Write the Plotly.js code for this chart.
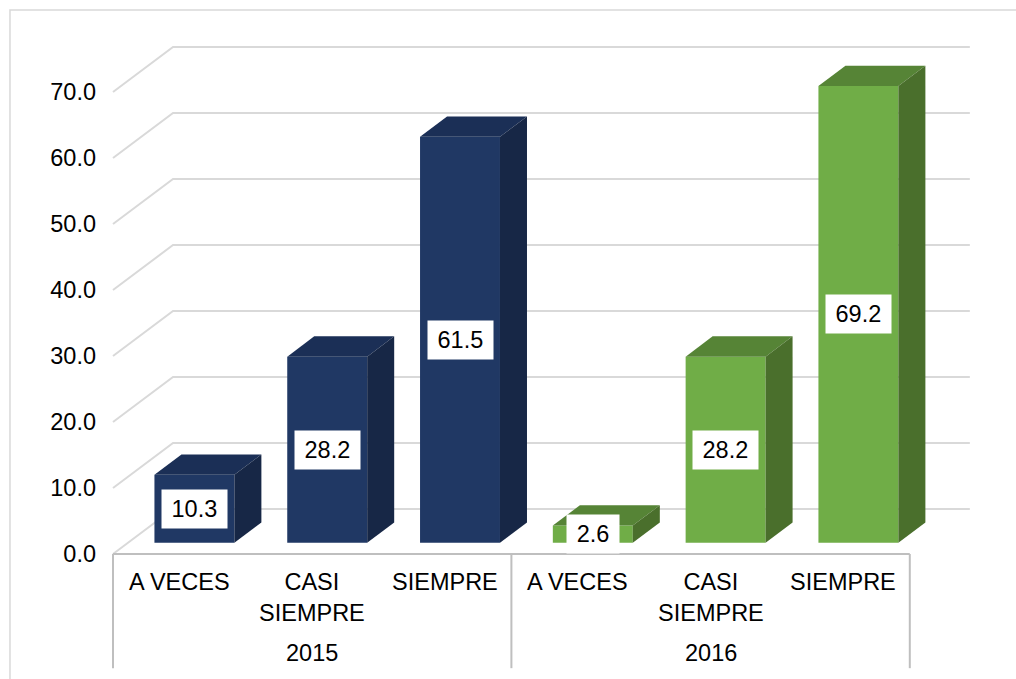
<!DOCTYPE html>
<html>
<head>
<meta charset="utf-8">
<script src="https://cdn.plot.ly/plotly-3.0.1.min.js"></script>
<style>html,body{margin:0;padding:0;background:#fff;}#chart{width:1016px;height:679px;}</style>
</head>
<body>
<div id="chart"></div>
<script>
// ---- data ----
const years = ['2015', '2016'];
const categories = ['A VECES', 'CASI<br>SIEMPRE', 'SIEMPRE'];
const values2015 = [10.3, 28.2, 61.5];
const values2016 = [2.6, 28.2, 69.2];
const yTicks = [0, 10, 20, 30, 40, 50, 60, 70];

// ---- styling / geometry constants ----
const FONT = 'Arial, "Liberation Sans", sans-serif';
const FS = 23.5;
const seriesStyle = {
  '2015': {front: '#203864', top: '#1b2f56', side: '#172746'},
  '2016': {front: '#70ad47', top: '#568436', side: '#4a6f2c'}
};
const DEPTH_X = 0.452;   // full depth, x units
const DEPTH_Y = 6.82;    // full depth, y units
const BAR_D0 = 0.25, BAR_D1 = 0.70; // bar depth span (fraction)
const BAR_W = 0.602;

// approximate label text width (Arial metrics) for the label box
function labelWidth(s) {
  let em = 0;
  for (const c of s) em += (c === '.') ? 0.278 : 0.556;
  return em * 23 + 18;
}

const shapes = [];
const traces = [];
const annotations = [];

// frame
shapes.push({type: 'rect', xref: 'paper', yref: 'paper', x0: -0.0947, x1: 1.05, y0: -0.05, y1: 0.9853,
  line: {color: '#d9d9d9', width: 1.5}, layer: 'below'});

// back-wall gridlines
const nCat = years.length * categories.length;
yTicks.forEach(t => {
  shapes.push({type: 'path', xref: 'x', yref: 'y', layer: 'below',
    path: `M 0,${t} L ${DEPTH_X},${t + DEPTH_Y} L ${nCat + DEPTH_X},${t + DEPTH_Y}`,
    line: {color: '#d9d9d9', width: 2}});
});

// category axis box
const axisBottom = -17.3;
shapes.push({type: 'line', xref: 'x', yref: 'y', x0: 0, x1: nCat, y0: 0, y1: 0, line: {color: '#bfbfbf', width: 2}});
for (let g = 0; g <= years.length; g++) {
  const xg = g * categories.length;
  shapes.push({type: 'line', xref: 'x', yref: 'y', x0: xg, x1: xg, y0: 0, y1: axisBottom, line: {color: '#bfbfbf', width: 2}});
}

const baseY = BAR_D0 * DEPTH_Y;
const offX = BAR_D0 * DEPTH_X;
const ddx = (BAR_D1 - BAR_D0) * DEPTH_X;
const ddy = (BAR_D1 - BAR_D0) * DEPTH_Y;

years.forEach((yr, g) => {
  const vals = g === 0 ? values2015 : values2016;
  const st = seriesStyle[yr];
  const xs = vals.map((v, i) => g * categories.length + i + 0.5 + offX);
  traces.push({type: 'bar', x: xs, y: vals, base: vals.map(() => baseY), width: BAR_W,
    marker: {color: st.front, line: {width: 0}}, hoverinfo: 'skip', showlegend: false});
  vals.forEach((v, i) => {
    const xl = xs[i] - BAR_W / 2, xr = xs[i] + BAR_W / 2;
    const yt = baseY + v;
    // top face
    traces.push({type: 'scatter', mode: 'lines', fill: 'toself', fillcolor: st.top,
      x: [xl, xr, xr + ddx, xl + ddx, xl], y: [yt, yt, yt + ddy, yt + ddy, yt],
      line: {width: 0, color: st.top}, hoverinfo: 'skip', showlegend: false});
    // side face
    traces.push({type: 'scatter', mode: 'lines', fill: 'toself', fillcolor: st.side,
      x: [xr, xr, xr + ddx, xr + ddx, xr], y: [baseY, yt, yt + ddy, baseY + ddy, baseY],
      line: {width: 0, color: st.side}, hoverinfo: 'skip', showlegend: false});
    // data label
    const txt = v.toFixed(1);
    annotations.push({x: xs[i], y: baseY + v / 2, xref: 'x', yref: 'y', text: txt,
      showarrow: false, bgcolor: '#ffffff', width: labelWidth(txt), height: 36,
      font: {family: FONT, size: FS, color: '#000'}});
    // category label
    annotations.push({x: g * categories.length + i + 0.5, y: -1.97, xref: 'x', yref: 'y', yanchor: 'top',
      text: categories[i], showarrow: false, font: {family: FONT, size: FS, color: '#000'}});
  });
  annotations.push({x: g * categories.length + categories.length / 2, y: -15.0, xref: 'x', yref: 'y',
    yanchor: 'middle', text: yr, showarrow: false, font: {family: FONT, size: FS, color: '#000'}});
});

const layout = {
  width: 1016, height: 679,
  margin: {l: 97, r: 0, t: 0, b: 0, pad: 0},
  paper_bgcolor: '#fff', plot_bgcolor: 'rgba(0,0,0,0)',
  barmode: 'overlay',
  showlegend: false,
  xaxis: {range: [-0.1205, 6.7997], showgrid: false, zeroline: false, showline: false,
    showticklabels: false, ticks: '', fixedrange: true},
  yaxis: {range: [-18.94, 83.94], showgrid: false, zeroline: false, showline: false,
    tickvals: yTicks, ticktext: yTicks.map(t => t.toFixed(1)), ticks: '',
    tickfont: {family: FONT, size: FS, color: '#000'}, fixedrange: true},
  shapes: shapes,
  annotations: annotations
};

Plotly.newPlot('chart', traces, layout, {displayModeBar: false, staticPlot: true});
</script>
</body>
</html>
